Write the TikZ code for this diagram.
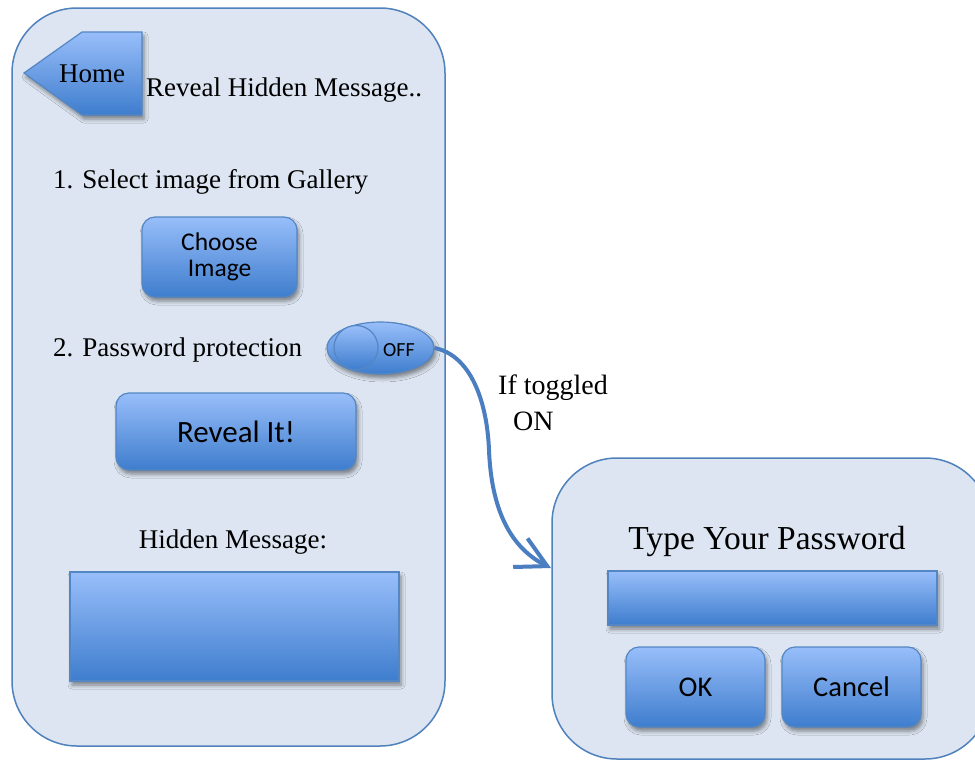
\documentclass[tikz,border=0pt]{standalone}
\usepackage{fontspec}
\setmainfont{Liberation Serif}
\newfontfamily\sansf{Carlito}
\usetikzlibrary{shapes.geometric,arrows.meta,shadows.blur}
\definecolor{panelfill}{RGB}{220,229,241}
\definecolor{panelline}{RGB}{79,129,189}
\definecolor{btntop}{RGB}{152,190,250}
\definecolor{btnbot}{RGB}{62,125,205}
\definecolor{btnline}{RGB}{84,134,196}
\definecolor{arrowcol}{RGB}{74,126,193}
\tikzset{
  panel/.style={draw=panelline, line width=1.5pt, fill=panelfill, rounded corners=65pt, inner sep=0pt},
  btnshadow/.style={blur shadow={shadow xshift=2pt, shadow yshift=-4pt, shadow blur radius=4pt, shadow opacity=45}},
  btn/.style={draw=btnline, line width=1.2pt, rounded corners=13pt, top color=btntop, bottom color=btnbot, btnshadow, inner sep=0pt, align=center, font=\sansf},
  field/.style={draw=btnline, line width=1.2pt, top color=btntop, bottom color=btnbot, btnshadow, inner sep=0pt},
  serif/.style={font=\fontsize{27}{32}\selectfont, inner sep=0pt},
  arrowline/.style={draw=arrowcol, line width=4pt, -{Straight Barb[length=30pt, width=32pt]}},
}
\begin{document}
\begin{tikzpicture}[x=1pt,y=-1pt]
\useasboundingbox (0,0) rectangle (975,761);
\fill[white] (0,0) rectangle (975,761);
\clip (0,0) rectangle (975,761);
% panels
\node[panel, minimum width=433pt, minimum height=738pt] (left) at (228.5,377) {};
\node[panel, minimum width=438pt, minimum height=301pt] (right) at (771,608.5) {};
% home arrow
\path[draw=btnline, line width=1.2pt, top color=btntop, bottom color=btnbot, btnshadow]
  (24,73) -- (82,32) -- (142,32) -- (142,115) -- (82,115) -- cycle;
\node[serif] (home) at (92,74) {Home};
\node[serif, anchor=base west] (title) at (146,96) {Reveal Hidden Message..};
% step 1
\node[serif, anchor=base west] (step1) at (53,188) {1. Select image from Gallery};
\node[btn, minimum width=155pt, minimum height=80pt, font=\sansf\fontsize{25.5}{26.5}\selectfont] (choose) at (219.5,257) {Choose\\Image};
% step 2
\node[serif, anchor=base west] (step2) at (53,356) {2. Password protection};
\node[ellipse, draw=btnline, line width=1.2pt, top color=btntop, bottom color=btnbot, btnshadow, minimum width=107pt, minimum height=52pt, inner sep=0pt] (toggle) at (380.5,348) {};
\node[circle, draw=btnline, line width=1.2pt, top color=btntop, bottom color=btnbot, minimum size=44pt, inner sep=0pt] (knob) at (356,347.5) {};
\node[font=\sansf\fontsize{20}{21}\selectfont, inner sep=0pt] (off) at (399,350) {OFF};
\node[btn, minimum width=240pt, minimum height=77pt, font=\sansf\fontsize{31}{33}\selectfont] (reveal) at (236,431.5) {Reveal It!};
% hidden message
\node[serif] (hmlabel) at (233,542) {Hidden Message:};
\node[field, minimum width=329pt, minimum height=109pt] (hmbox) at (234.5,626.5) {};
% right panel
\node[font=\fontsize{33.5}{36}\selectfont, inner sep=0pt] (pwlabel) at (767,541) {Type Your Password};
\node[field, minimum width=329pt, minimum height=54pt] (pwbox) at (772.5,598) {};
\node[btn, minimum width=139pt, minimum height=80pt, font=\sansf\fontsize{28.5}{30}\selectfont] (ok) at (695.5,687) {OK};
\node[btn, minimum width=139pt, minimum height=80pt, font=\sansf\fontsize{28.5}{30}\selectfont] (cancel) at (851.5,687) {Cancel};
% connector
\coordinate (tip) at (551,568);
\draw[arrowline] (toggle.east) .. controls (470,355) and (487,400) .. (489,450) .. controls (491,500) and (505,545) .. (tip);
\node[serif, font=\fontsize{28}{32}\selectfont, anchor=base west] (iftog) at (498,394) {If toggled};
\node[serif, font=\fontsize{28}{32}\selectfont, anchor=base west] (on) at (513,430) {ON};
\end{tikzpicture}
\end{document}
